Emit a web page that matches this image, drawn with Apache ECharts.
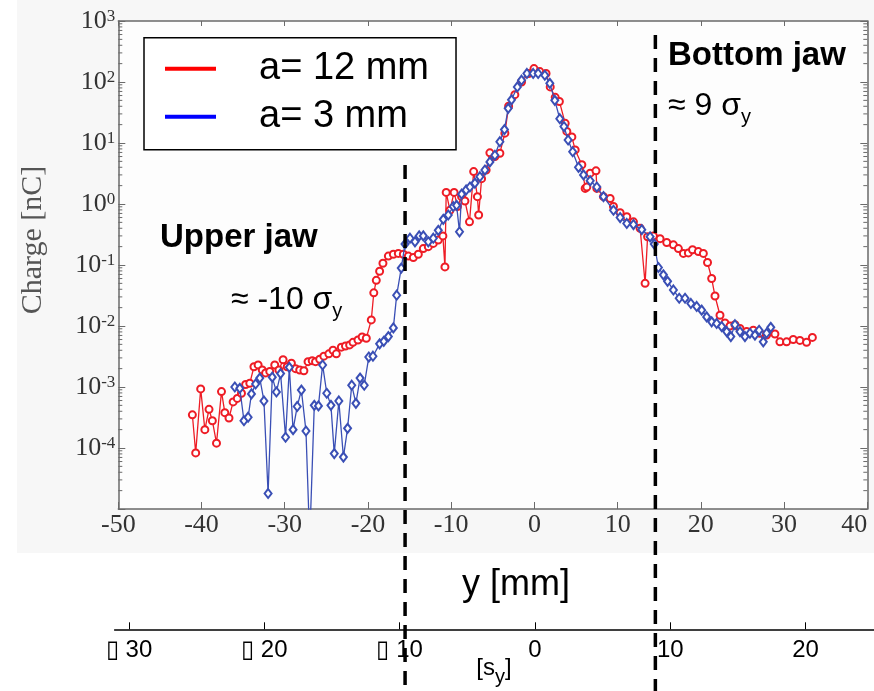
<!DOCTYPE html>
<html><head><meta charset="utf-8">
<script src="https://cdn.jsdelivr.net/npm/echarts@6/dist/echarts.min.js"></script>
<style>html,body{margin:0;padding:0;background:#fff}#c{width:874px;height:691px}</style>
</head><body><div id="c"></div>
<script>
// ---- data ----
const redMm = [-41.1,-40.7,-40.1,-39.6,-39.1,-38.7,-38.2,-37.6,-37.2,-36.7,-36.2,-35.7,-35.2,-34.7,-34.2,-33.7,-33.2,-32.7,-32.3,-31.8,-31.2,-30.7,-30.2,-29.7,-29.2,-28.7,-28.2,-27.7,-27.2,-26.7,-26.3,-25.8,-25.3,-24.7,-24.2,-23.8,-23.2,-22.7,-22.2,-21.8,-21.2,-20.7,-20.2,-19.6,-19.3,-19.0,-18.6,-18.2,-17.55,-16.95,-16.35,-15.75,-15.15,-14.55,-13.95,-13.35,-12.75,-12.15,-11.55,-11.0,-10.75,-10.6,-10.15,-9.65,-9.25,-8.75,-8.35,-7.8,-7.3,-6.85,-6.7,-6.35,-5.8,-5.35,-4.75,-4.15,-3.55,-3.1,-2.35,-1.55,-0.7,-0.05,0.65,1.4,1.9,2.5,3.0,3.7,3.9,4.5,4.9,5.7,6.1,6.3,6.7,7.4,7.5,8.3,9.1,9.5,10.3,11.1,11.9,12.7,13.3,13.6,14.3,15.1,15.9,16.7,17.3,17.9,18.5,19.0,19.7,20.3,20.8,21.3,21.7,22.3,22.9,23.5,24.1,24.7,25.5,26.3,27.1,27.9,28.9,29.5,30.3,31.1,31.9,32.7,33.4];
const redCharge = [3.5e-4,8.3e-5,9.3e-4,2.0e-4,4.3e-4,2.8e-4,1.2e-4,8.4e-4,3.8e-4,3.1e-4,5.7e-4,6.5e-4,7.9e-4,1.1e-3,1.15e-3,2.15e-3,2.3e-3,1.9e-3,1.7e-3,1.8e-3,2.3e-3,1.9e-3,2.8e-3,2.15e-3,2.45e-3,2.0e-3,1.9e-3,1.85e-3,2.6e-3,2.7e-3,2.6e-3,2.85e-3,3.2e-3,3.5e-3,4.0e-3,3.5e-3,4.5e-3,4.7e-3,4.9e-3,5.4e-3,5.9e-3,6.6e-3,6.3e-3,0.0126,0.035,0.056,0.079,0.107,0.14,0.15,0.155,0.15,0.14,0.133,0.15,0.186,0.2,0.226,0.257,0.3,0.093,1.55,0.79,1.55,0.91,1.32,1.12,0.51,3.4,1.32,0.66,2.6,3.6,6.9,6.0,6.8,14.5,40,62,100,138,166,148,138,83,56,48,21,15.5,12.6,7.7,4.4,1.8,1.9,3.2,3.5,1.8,1.32,1.23,0.91,0.72,0.62,0.51,0.4,0.05,0.29,0.3,0.27,0.234,0.214,0.186,0.155,0.158,0.178,0.166,0.155,0.11,0.06,0.031,0.015,0.0112,0.01,0.0105,0.0091,0.0081,0.0085,0.0076,0.0071,0.0074,0.0055,0.0055,0.006,0.0058,0.0054,0.0065];
const blueMm = [-36.0,-35.4,-34.9,-34.4,-34.0,-33.5,-33.0,-32.5,-32.0,-31.5,-31.0,-30.5,-29.9,-29.45,-29.0,-28.5,-28.0,-27.45,-27.0,-26.45,-25.95,-25.45,-24.95,-24.45,-24.05,-23.5,-22.95,-22.45,-21.95,-21.45,-20.95,-20.45,-19.9,-19.4,-18.6,-18.1,-17.55,-16.95,-16.55,-16.0,-15.55,-14.95,-14.35,-13.85,-13.35,-12.75,-12.15,-11.55,-10.95,-10.35,-9.75,-9.35,-9.0,-8.75,-8.2,-7.75,-7.15,-6.55,-5.95,-5.35,-4.75,-4.15,-3.6,-3.15,-2.75,-2.05,-1.55,-0.9,-0.15,0.45,1.25,1.85,2.45,3.05,3.55,4.05,4.6,5.3,5.9,6.7,7.5,8.3,9.5,10.3,11.1,11.9,12.9,13.9,14.4,14.9,15.5,16.0,16.7,17.4,18.1,18.8,19.5,20.1,20.7,21.3,21.9,22.5,23.1,23.6,24.1,24.7,25.3,25.9,26.5,27.0,27.5,27.9,28.4];
const blueCharge = [1.0e-3,9.5e-4,2.8e-4,3.2e-4,7.7e-4,1.12e-3,1.4e-3,5.9e-4,1.8e-5,1.45e-3,8.3e-4,1.66e-3,1.5e-4,2.1e-3,2.0e-4,4.8e-4,8.9e-4,1.9e-4,3e-6,5.0e-4,4.9e-4,2.3e-3,7.9e-4,5.0e-4,8.1e-5,5.9e-4,7.1e-5,2.1e-4,1.07e-3,5.4e-4,1.4e-3,1.07e-3,3.1e-3,3.2e-3,5.1e-3,5.6e-3,6.7e-3,9.3e-3,0.032,0.089,0.22,0.275,0.24,0.3,0.3,0.24,0.275,0.37,0.56,0.66,0.91,0.95,0.35,1.45,1.7,1.9,2.2,2.8,3.6,4.9,6.3,10.5,16.6,37,51,83,107,138,138,138,129,95,50,25,18.6,11.2,7.2,4.0,3.0,2.4,1.9,1.32,0.79,0.6,0.48,0.46,0.38,0.29,0.22,0.091,0.069,0.054,0.039,0.0285,0.0285,0.0234,0.0209,0.0182,0.0141,0.0117,0.011,0.0098,0.0081,0.0067,0.0105,0.0081,0.0067,0.0076,0.0071,0.0085,0.0055,0.0076,0.0095];
const seriesNames = ['a= 12 mm', 'a= 3 mm'];
const xTicksMm = [-50,-40,-30,-20,-10,0,10,20,30,40];
const yDecadeExponents = [-5,-4,-3,-2,-1,0,1,2,3];
const sigmaTicks = [-30,-20,-10,0,10,20];
const sigmaTickLabels = ['\u25AF 30','\u25AF 20','\u25AF 10','0','10','20'];
const jawSigma = [-9.6, 8.9];

// ---- layout / style constants ----
const SERIF = '"Liberation Serif", "Times New Roman", serif';
const SANS = '"Liberation Sans", Arial, sans-serif';
const AX = '#6a6a6a';
const jawTopPx = [165, 35];

const minorVals = [];
yDecadeExponents.slice(0, -1).forEach(e => { for (let k = 2; k <= 9; k++) minorVals.push(k * Math.pow(10, e)); });

const chart = echarts.init(document.getElementById('c'), null, {renderer: 'canvas'});
const logLabel = v => {
  const e = Math.round(Math.log10(v));
  if (e === yDecadeExponents[0]) return '';
  return '10{s|' + e + '}';
};
chart.setOption({
  backgroundColor: '#ffffff',
  animation: false,
  graphic: [
    {type: 'rect', z: -10, silent: true, shape: {x: 17, y: 0, width: 857, height: 553}, style: {fill: '#f7f7f7'}},
    {type: 'text', x: 33, y: 240, rotation: Math.PI / 2, style: {text: 'Charge [nC]', font: '30px ' + SERIF, fill: '#555', align: 'center', verticalAlign: 'middle'}},
    {type: 'text', x: 160, y: 238, z: 50, style: {text: 'Upper jaw', font: 'bold 33px ' + SANS, fill: '#000', align: 'left', verticalAlign: 'middle'}},
    {type: 'text', x: 231, y: 300, z: 50, style: {text: '\u2248 -10 \u03C3{sub|y}', font: '32px ' + SANS, fill: '#000', align: 'left', verticalAlign: 'middle', rich: {sub: {fontSize: 20, fontFamily: SANS, padding: [22, 0, 0, 0]}}}},
    {type: 'text', x: 668, y: 56, z: 50, style: {text: 'Bottom jaw', font: 'bold 33px ' + SANS, fill: '#000', align: 'left', verticalAlign: 'middle'}},
    {type: 'text', x: 668, y: 106, z: 50, style: {text: '\u2248 9 \u03C3{sub|y}', font: '32px ' + SANS, fill: '#000', align: 'left', verticalAlign: 'middle', rich: {sub: {fontSize: 20, fontFamily: SANS, padding: [22, 0, 0, 0]}}}},
    {type: 'text', x: 516, y: 585, z: 50, style: {text: 'y [mm]', font: '36px ' + SANS, fill: '#000', align: 'center', verticalAlign: 'middle'}},
    {type: 'text', x: 494, y: 668, z: 50, style: {text: '[s{sub|y}]', font: '24px ' + SANS, fill: '#000', align: 'center', verticalAlign: 'middle', rich: {sub: {fontSize: 20, fontFamily: SANS, padding: [18, 0, 0, 0]}}}}
  ],
  legend: {
    orient: 'vertical', left: 144, top: 37.7,
    backgroundColor: '#fff', borderColor: '#000', borderWidth: 1.5,
    padding: [9, 27, 11, 21], itemGap: 4, itemWidth: 51, itemHeight: 4, icon: 'rect',
    textStyle: {fontFamily: SANS, fontSize: 38, color: '#000', lineHeight: 44, padding: [0, 0, 0, 38]},
    data: [{name: seriesNames[0], itemStyle: {color: '#ff0000'}}, {name: seriesNames[1], itemStyle: {color: '#0000ff'}}]
  },
  grid: [
    {left: 118.3, right: 6.7, top: 21, bottom: 182, show: true, backgroundColor: '#fdfdfd', borderWidth: 0},
    {left: 114.6, right: 0, top: 0, bottom: 0}
  ],
  xAxis: [
    {gridIndex: 0, type: 'value', min: xTicksMm[0], max: xTicksMm[xTicksMm.length - 1], interval: 10, position: 'bottom',
     axisLine: {onZero: false, lineStyle: {color: AX, width: 1.5}}, axisTick: {inside: true, length: 7, lineStyle: {color: AX}},
     splitLine: {show: false},
     axisLabel: {fontFamily: SERIF, fontSize: 26, color: '#333', margin: 3, alignMaxLabel: 'right'}},
    {gridIndex: 0, type: 'value', min: xTicksMm[0], max: xTicksMm[xTicksMm.length - 1], interval: 10, position: 'top',
     axisLine: {onZero: false, lineStyle: {color: AX, width: 1.5}}, axisTick: {inside: true, length: 5, lineStyle: {color: AX}},
     splitLine: {show: false}, axisLabel: {show: false}},
    {gridIndex: 1, type: 'value', min: -31.07, max: 25.06, position: 'bottom', offset: -61.7,
     axisLine: {onZero: false, lineStyle: {color: '#000', width: 1.5}},
     axisTick: {inside: true, length: 7, lineStyle: {color: '#000'}, customValues: sigmaTicks},
     splitLine: {show: false},
     axisLabel: {customValues: sigmaTicks, fontFamily: SANS, fontSize: 24, color: '#000', margin: 9,
       formatter: v => sigmaTickLabels[sigmaTicks.indexOf(Math.round(v))] || ''}}
  ],
  yAxis: [
    {gridIndex: 0, type: 'log', logBase: 10, min: Math.pow(10, yDecadeExponents[0]), max: Math.pow(10, yDecadeExponents[yDecadeExponents.length - 1]), splitNumber: 8,
     position: 'left', axisLine: {onZero: false, lineStyle: {color: AX, width: 1.5}}, axisTick: {inside: true, length: 7, lineStyle: {color: AX}},
     splitLine: {show: false},
     axisLabel: {formatter: logLabel, margin: 3, color: '#333', fontFamily: SERIF, fontSize: 26,
       rich: {s: {fontFamily: SERIF, fontSize: 17, color: '#333', verticalAlign: 'top', lineHeight: 16}}}},
    {gridIndex: 0, type: 'log', logBase: 10, min: Math.pow(10, yDecadeExponents[0]), max: Math.pow(10, yDecadeExponents[yDecadeExponents.length - 1]), splitNumber: 8,
     position: 'right', axisLine: {onZero: false, lineStyle: {color: AX, width: 1.5}}, axisTick: {inside: true, length: 7, lineStyle: {color: AX}},
     splitLine: {show: false}, axisLabel: {show: false}},
    {gridIndex: 1, type: 'value', min: 0, max: 691, inverse: true, show: false}
  ],
  series: [
    {name: seriesNames[0], type: 'line', xAxisIndex: 0, yAxisIndex: 0, z: 3,
     data: redMm.map((x, i) => [x, redCharge[i]]),
     symbol: 'emptyCircle', symbolSize: 7, showAllSymbol: true,
     lineStyle: {color: '#ee1c25', width: 1.3}, itemStyle: {color: '#ee1c25', borderWidth: 1.3}},
    {name: seriesNames[1], type: 'line', xAxisIndex: 0, yAxisIndex: 0, z: 4,
     data: blueMm.map((x, i) => [x, blueCharge[i]]),
     symbol: 'emptyDiamond', symbolSize: [7, 9], showAllSymbol: true,
     lineStyle: {color: '#3a4fb5', width: 1.3}, itemStyle: {color: '#3a4fb5', borderWidth: 1.3}},
    {type: 'custom', xAxisIndex: 0, yAxisIndex: 0, silent: true, z: 2,
     data: minorVals.map(v => [xTicksMm[0], v]),
     renderItem: (params, api) => {
       const p = api.coord([xTicksMm[0], api.value(1)]);
       const q = api.coord([xTicksMm[xTicksMm.length - 1], api.value(1)]);
       return {type: 'group', children: [
         {type: 'line', shape: {x1: p[0], y1: p[1], x2: p[0] + 4, y2: p[1]}, style: {stroke: AX, lineWidth: 1}},
         {type: 'line', shape: {x1: q[0], y1: q[1], x2: q[0] - 4, y2: q[1]}, style: {stroke: AX, lineWidth: 1}}
       ]};
     }},
    {type: 'custom', xAxisIndex: 2, yAxisIndex: 2, silent: true, z: 20,
     data: jawSigma.map((s, i) => [s, i]),
     renderItem: (params, api) => {
       const x = api.coord([api.value(0), 0])[0];
       const top = jawTopPx[api.value(1)];
       return {type: 'line', shape: {x1: x, y1: top, x2: x, y2: 691}, style: {stroke: '#000', lineWidth: 3.5, lineDash: [14, 9]}};
     }}
  ]
});
</script></body></html>
